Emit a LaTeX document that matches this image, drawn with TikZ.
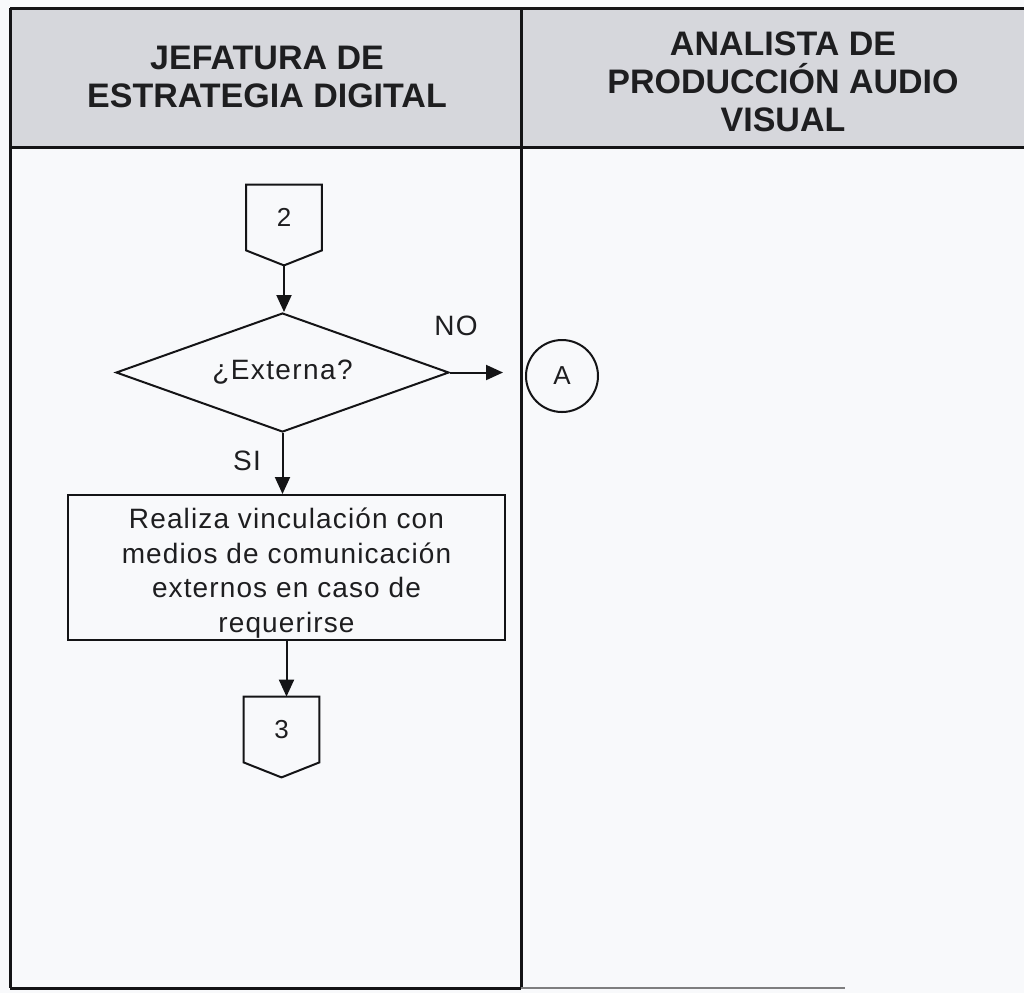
\documentclass[tikz,border=0pt]{standalone}
\usepackage{fontspec}
\setmainfont{Liberation Sans}
\newfontfamily\bodyfont[LetterSpace=4]{Liberation Sans}
\newfontfamily\lblfont[LetterSpace=5]{Liberation Sans}
\usetikzlibrary{shapes.geometric,arrows.meta,calc}
\definecolor{bg}{RGB}{248,249,251}
\definecolor{hdr}{RGB}{214,215,220}
\definecolor{ink}{RGB}{30,30,32}
\definecolor{rule}{RGB}{20,20,22}
\tikzset{
  frame/.style={draw=rule, line width=1.5pt},
  shp/.style={draw=rule, line width=1pt},
  arr/.style={draw=rule, line width=1pt, -{Triangle[length=8.5pt,width=7.5pt]}},
  hdrtext/.style={align=center, text=ink, font=\bfseries\fontsize{17}{19}\selectfont, inner sep=0pt},
  lbl/.style={text=ink, font=\lblfont\fontsize{14}{15}\selectfont, inner sep=0pt},
  conbox/.style={minimum width=37.5pt, minimum height=32.5pt, inner sep=0pt, text=ink, font=\fontsize{13}{15}\selectfont},
  dec/.style={diamond, shp, aspect=2.8, inner sep=0pt, minimum width=166.5pt, minimum height=59.5pt, text=ink, font=\lblfont\fontsize{14}{15}\selectfont},
  procbox/.style={rectangle, shp, minimum width=218.5pt, minimum height=72.5pt, inner sep=0pt},
  proctext/.style={align=center, inner sep=0pt, text=ink, font=\bodyfont\fontsize{14}{17.3}\selectfont},
  conn/.style={circle, shp, minimum size=36pt, inner sep=0pt, text=ink, font=\fontsize{13}{15}\selectfont}
}
\begin{document}
\begin{tikzpicture}[x=0.5pt,y=-0.5pt]
\useasboundingbox (0,0) rectangle (1024,993);
\fill[bg] (0,0) rectangle (1024,993);
\fill[hdr] (10,8) rectangle (1024,147);
% table lines
\draw[frame] (10,8) -- (1024,8);
\draw[frame] (10,147) -- (1024,147);
\draw[frame] (10,8) -- (10,988);
\draw[frame] (521,8) -- (521,988);
\draw[frame] (10,988) -- (521,988);
\draw[draw=rule!55, line width=1.2pt] (521,988) -- (845,988);
% headers
\node[hdrtext] (h1) at (267,77) {JEFATURA DE\\ESTRATEGIA DIGITAL};
\node[hdrtext] (h2) at (783,82) {ANALISTA DE\\PRODUCCIÓN AUDIO\\VISUAL};
% off-page connector 2
\node[conbox] (c2) at (284,217.5) {2};
\coordinate (c2tip) at ($(c2.south)+(0,15)$);
\draw[shp] (c2.north west) -- (c2.north east) -- (c2.south east) -- (c2tip) -- (c2.south west) -- cycle;
% decision
\node[dec] (d) at (282.5,372.5) {¿Externa?};
\node[lbl] (no) at (456,326) {NO};
\node[lbl] (si) at (247,461) {SI};
% connector A
\node[conn] (A) at (562,376) {A};
\coordinate (noend) at (503,372.5);
% process
\node[procbox] (p) at (286.5,567.5) {};
\node[proctext] (pt) at (286.5,573) {Realiza vinculación con\\medios de comunicación\\externos en caso de\\requerirse};
% off-page connector 3
\node[conbox] (c3) at (281.5,729.5) {3};
\coordinate (c3tip) at ($(c3.south)+(0,15)$);
\draw[shp] (c3.north west) -- (c3.north east) -- (c3.south east) -- (c3tip) -- (c3.south west) -- cycle;
% connectors
\draw[arr] (c2tip) -- (c2tip |- d.north);
\draw[arr] (d.east) -- (noend);
\draw[arr] (d.south) -- (d.south |- p.north);
\draw[arr] (p.south) -- (p.south |- c3.north);
\end{tikzpicture}
\end{document}
